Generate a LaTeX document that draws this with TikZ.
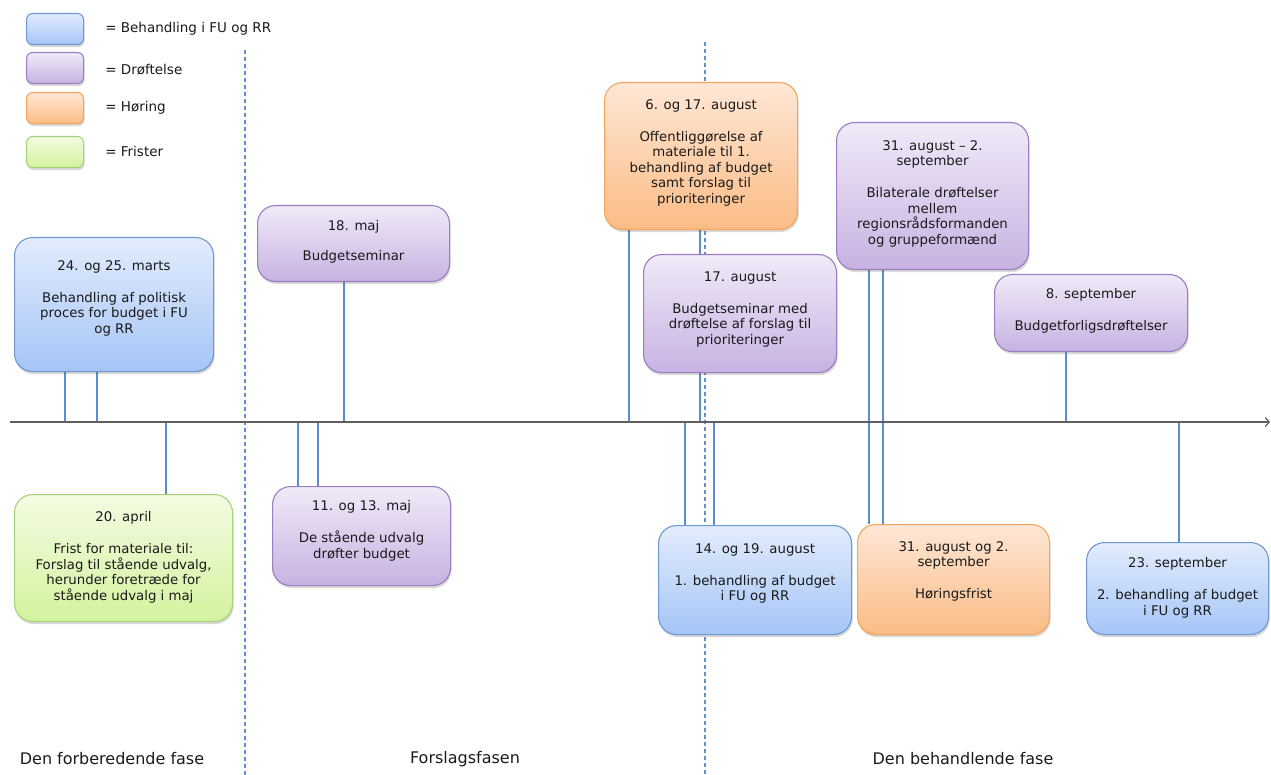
\documentclass[tikz,border=0pt]{standalone}
\usepackage{fontspec}
\setmainfont{DejaVu Sans}
\usetikzlibrary{arrows.meta,shadows}
\definecolor{bluetop}{HTML}{E2ECFC}
\definecolor{bluebot}{HTML}{A5C5F7}
\definecolor{blueline}{HTML}{6F97D1}
\definecolor{purtop}{HTML}{F0EAF8}
\definecolor{purbot}{HTML}{C7B2E2}
\definecolor{purline}{HTML}{9A7EC0}
\definecolor{ortop}{HTML}{FEE7D6}
\definecolor{orbot}{HTML}{FBBC85}
\definecolor{orline}{HTML}{F5A55A}
\definecolor{grtop}{HTML}{F4FBE2}
\definecolor{grbot}{HTML}{D3F39E}
\definecolor{grline}{HTML}{A8D27A}
\definecolor{connc}{HTML}{5A8DD3}
\definecolor{axisc}{HTML}{5E5E5E}
\definecolor{dashc}{HTML}{6690CC}
\definecolor{txtc}{HTML}{1A1A1A}
\newcommand\boxtext[4]{\parbox[c][#2][t]{#1}{\centering\vspace*{#3}#4\par}}
\pgfdeclarelayer{background}
\pgfsetlayers{background,main}
\begin{document}
\begin{tikzpicture}[x=1pt,y=-1pt,
  every node/.style={text=txtc},
  shad/.style={drop shadow={shadow xshift=1pt, shadow yshift=-2.5pt, opacity=0.22, fill=black!70}},
  ev/.style={draw, line width=1.1pt, rounded corners=18pt, inner sep=0pt, anchor=north west,
    font=\fontsize{13.3}{15.5}\selectfont, shad},
  legbox/.style={draw, line width=1.1pt, rounded corners=6pt, minimum width=57pt, minimum height=31pt,
    inner sep=0pt, anchor=north west, shad},
  bluefill/.style={draw=blueline, top color=bluetop, bottom color=bluebot},
  purfill/.style={draw=purline, top color=purtop, bottom color=purbot},
  orfill/.style={draw=orline, top color=ortop, bottom color=orbot},
  grfill/.style={draw=grline, top color=grtop, bottom color=grbot},
  legtxt/.style={anchor=west, inner sep=0pt, font=\fontsize{13.5}{16}\selectfont},
  phase/.style={inner sep=0pt, font=\fontsize{16}{19}\selectfont},
  conn/.style={draw=connc, line width=1.1pt},
  axisline/.style={draw=axisc, line width=1.8pt, -{Straight Barb[length=4pt,width=9pt,line width=1.2pt]}},
  phasesep/.style={draw=dashc, line width=1.1pt, dash pattern=on 4pt off 3pt}
]
\useasboundingbox (0,0) rectangle (1271,775);

% legend
\node[legbox, bluefill] (lg1) at (26,13) {};
\node[legbox, purfill] (lg2) at (26,52) {};
\node[legbox, orfill] (lg3) at (26,92) {};
\node[legbox, grfill] (lg4) at (26,136) {};
\node[legtxt] (lt1) at ([xshift=21pt]lg1.east) {= Behandling i FU og RR};
\node[legtxt] (lt2) at ([xshift=21pt,yshift=-2pt]lg2.east) {= Drøftelse};
\node[legtxt] (lt3) at ([xshift=21pt]lg3.east) {= Høring};
\node[legtxt] (lt4) at ([xshift=21pt,yshift=1pt]lg4.east) {= Frister};

% event boxes
\node[ev,bluefill] (b1) at (14,237) {\boxtext{199pt}{134pt}{23pt}{24. og 25. marts\\[16.5pt]Behandling af politisk\\proces for budget i FU\\og RR}};
\node[ev,grfill] (g1) at (14,494) {\boxtext{218pt}{127pt}{17pt}{20. april\\[16.5pt]Frist for materiale til:\\Forslag til stående udvalg,\\herunder foretræde for\\stående udvalg i maj}};
\node[ev,purfill] (p1) at (257,205) {\boxtext{192pt}{76pt}{15pt}{18. maj\\[14.5pt]Budgetseminar}};
\node[ev,purfill] (p2) at (272,486) {\boxtext{178pt}{99pt}{14pt}{11. og 13. maj\\[16.5pt]De stående udvalg\\drøfter budget}};
\node[ev,orfill] (o1) at (604,82) {\boxtext{193pt}{147pt}{17pt}{6. og 17. august\\[16.5pt]Offentliggørelse af\\materiale til 1.\\behandling af budget\\samt forslag til\\prioriteringer}};
\node[ev,purfill] (p3) at (643,254) {\boxtext{193pt}{118pt}{17pt}{17. august\\[16.5pt]Budgetseminar med\\drøftelse af forslag til\\prioriteringer}};
\node[ev,purfill] (p4) at (836,122) {\boxtext{192pt}{147pt}{18pt}{31. august – 2.\\september\\[16.5pt]Bilaterale drøftelser\\mellem\\regionsrådsformanden\\og gruppeformænd}};
\node[ev,purfill] (p5) at (994,274) {\boxtext{193pt}{77pt}{14pt}{8. september\\[16.5pt]Budgetforligsdrøftelser}};
\node[ev,bluefill] (bl2) at (658,525) {\boxtext{193pt}{109pt}{18pt}{14. og 19. august\\[16.5pt]1. behandling af budget\\i FU og RR}};
\node[ev,orfill] (o2) at (857,524) {\boxtext{192pt}{110pt}{17pt}{31. august og 2.\\september\\[16.5pt]Høringsfrist}};
\node[ev,bluefill] (bl3) at (1086,542) {\boxtext{182pt}{92pt}{15pt}{23. september\\[16.5pt]2. behandling af budget\\i FU og RR}};

% phase labels
\node[phase] (ph1) at (112,759) {Den forberedende fase};
\node[phase] (ph2) at (465,759) {Forslagsfasen};
\node[phase] (ph3) at (963,759) {Den behandlende fase};

% axis and separators
\coordinate (axL) at (10,422);
\coordinate (axR) at (1270,422);
\coordinate (s1t) at (245,50);
\coordinate (s1b) at (245,775);
\coordinate (s2t) at (705,42);
\coordinate (s2b) at (705,775);

\begin{pgfonlayer}{background}
\draw[phasesep] (s1t) -- (s1b);
\draw[phasesep] (s2t) -- (s2b);
\draw[conn] (b1.south -| 65,0) -- (axL -| 65,0);
\draw[conn] (b1.south -| 97,0) -- (axL -| 97,0);
\draw[conn] (axL -| 166,0) -- (g1.north -| 166,0);
\draw[conn] (p1.south -| 344,0) -- (axL -| 344,0);
\draw[conn] (axL -| 298,0) -- (p2.north -| 298,0);
\draw[conn] (axL -| 318,0) -- (p2.north -| 318,0);
\draw[conn] (o1.south -| 629,0) -- (axL -| 629,0);
\draw[conn] (o1.south -| 700,0) -- (axL -| 700,0);
\draw[conn] (p4.south -| 869,0) -- (o2.north -| 869,0);
\draw[conn] (p4.south -| 883,0) -- (o2.north -| 883,0);
\draw[conn] (p5.south -| 1066,0) -- (axL -| 1066,0);
\draw[conn] (axL -| 685,0) -- (bl2.north -| 685,0);
\draw[conn] (axL -| 714,0) -- (bl2.north -| 714,0);
\draw[conn] (axL -| 1179,0) -- (bl3.north -| 1179,0);
\draw[axisline] (axL) -- (axR);
\end{pgfonlayer}
\end{tikzpicture}
\end{document}
